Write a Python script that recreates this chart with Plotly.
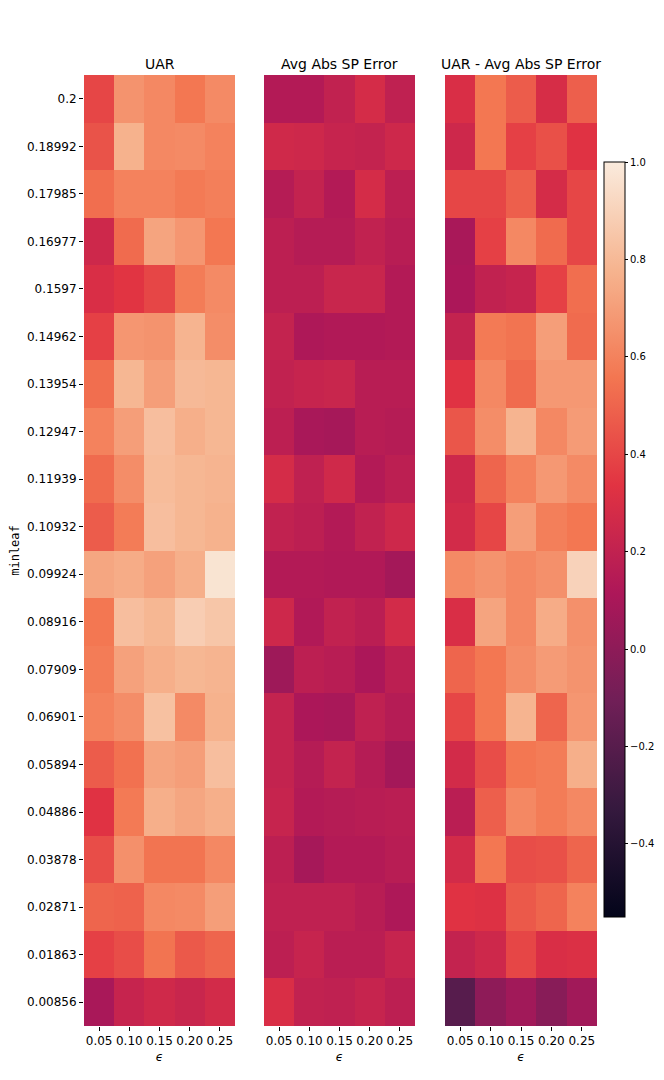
import plotly.graph_objects as go

# ось X - epsilon, ось Y - minleaf (сверху вниз)
eps = ['0.05', '0.10', '0.15', '0.20', '0.25']
minleaf = ['0.2', '0.18992', '0.17985', '0.16977', '0.1597', '0.14962', '0.13954',
           '0.12947', '0.11939', '0.10932', '0.09924', '0.08916', '0.07909', '0.06901',
           '0.05894', '0.04886', '0.03878', '0.02871', '0.01863', '0.00856']

uar = [
    [0.40, 0.66, 0.62, 0.56, 0.63],
    [0.44, 0.77, 0.62, 0.63, 0.60],
    [0.53, 0.60, 0.60, 0.57, 0.59],
    [0.25, 0.52, 0.72, 0.67, 0.56],
    [0.30, 0.34, 0.40, 0.58, 0.63],
    [0.38, 0.67, 0.66, 0.78, 0.64],
    [0.53, 0.79, 0.70, 0.80, 0.79],
    [0.60, 0.70, 0.82, 0.76, 0.79],
    [0.52, 0.64, 0.81, 0.79, 0.78],
    [0.47, 0.58, 0.82, 0.79, 0.77],
    [0.73, 0.75, 0.71, 0.76, 0.97],
    [0.56, 0.82, 0.79, 0.88, 0.85],
    [0.58, 0.71, 0.76, 0.79, 0.78],
    [0.60, 0.64, 0.83, 0.63, 0.77],
    [0.47, 0.54, 0.72, 0.70, 0.82],
    [0.33, 0.57, 0.76, 0.73, 0.76],
    [0.42, 0.65, 0.55, 0.55, 0.62],
    [0.50, 0.49, 0.62, 0.63, 0.70],
    [0.38, 0.42, 0.55, 0.46, 0.50],
    [0.10, 0.22, 0.26, 0.23, 0.27],
]

sp_error = [
    [0.14, 0.14, 0.20, 0.28, 0.19],
    [0.26, 0.25, 0.22, 0.21, 0.25],
    [0.15, 0.21, 0.14, 0.28, 0.18],
    [0.18, 0.15, 0.15, 0.20, 0.16],
    [0.18, 0.18, 0.23, 0.23, 0.14],
    [0.21, 0.12, 0.13, 0.13, 0.14],
    [0.20, 0.22, 0.23, 0.16, 0.16],
    [0.18, 0.10, 0.09, 0.16, 0.15],
    [0.28, 0.19, 0.26, 0.14, 0.18],
    [0.20, 0.18, 0.14, 0.20, 0.25],
    [0.14, 0.14, 0.13, 0.13, 0.08],
    [0.25, 0.13, 0.20, 0.17, 0.27],
    [0.06, 0.18, 0.16, 0.11, 0.18],
    [0.21, 0.11, 0.10, 0.19, 0.15],
    [0.21, 0.15, 0.21, 0.15, 0.08],
    [0.22, 0.14, 0.15, 0.16, 0.17],
    [0.18, 0.09, 0.14, 0.14, 0.16],
    [0.19, 0.19, 0.19, 0.16, 0.12],
    [0.18, 0.22, 0.17, 0.17, 0.22],
    [0.30, 0.20, 0.19, 0.22, 0.18],
]

uar_minus_err = [
    [0.30, 0.56, 0.47, 0.29, 0.48],
    [0.25, 0.56, 0.38, 0.43, 0.33],
    [0.40, 0.40, 0.48, 0.28, 0.40],
    [0.10, 0.38, 0.62, 0.52, 0.40],
    [0.11, 0.20, 0.22, 0.38, 0.53],
    [0.21, 0.57, 0.55, 0.70, 0.52],
    [0.33, 0.62, 0.52, 0.68, 0.68],
    [0.45, 0.64, 0.78, 0.62, 0.69],
    [0.25, 0.50, 0.60, 0.68, 0.63],
    [0.27, 0.40, 0.70, 0.59, 0.56],
    [0.63, 0.66, 0.62, 0.65, 0.90],
    [0.30, 0.72, 0.62, 0.75, 0.65],
    [0.50, 0.56, 0.64, 0.69, 0.66],
    [0.40, 0.56, 0.78, 0.50, 0.67],
    [0.27, 0.42, 0.56, 0.58, 0.76],
    [0.17, 0.48, 0.62, 0.58, 0.62],
    [0.27, 0.56, 0.42, 0.43, 0.50],
    [0.33, 0.32, 0.46, 0.50, 0.60],
    [0.21, 0.25, 0.40, 0.30, 0.31],
    [-0.20, 0.00, 0.07, -0.02, 0.07],
]

titles = ['UAR', 'Avg Abs SP Error', 'UAR - Avg Abs SP Error']

# палитра rocket (seaborn)
rocket = [[0.0, '#03051a'], [1/7, '#35193e'], [2/7, '#701f57'], [3/7, '#ad1759'],
          [4/7, '#e13342'], [5/7, '#f37651'], [6/7, '#f6b48f'], [1.0, '#faebdd']]

# у body страницы отступ 8px, фигура меньше окна, чтобы не было полос прокрутки
W, H = 656, 1056
panels_px = [(76, 227), (256, 407), (437, 589)]
y_top, y_bot = 67, 1018
cb_top, cb_bot = 154, 909

fig = go.Figure()
font = dict(family='DejaVu Sans', size=12, color='black')

for i, z in enumerate([uar, sp_error, uar_minus_err]):
    n = '' if i == 0 else str(i + 1)
    fig.add_trace(go.Heatmap(
        x=eps, y=minleaf, z=z, colorscale=rocket, zmin=-0.55, zmax=1.0,
        xaxis='x' + n, yaxis='y' + n, showscale=(i == 2),
        colorbar=dict(x=596 / W, xanchor='left', xpad=0, ypad=0,
                      thickness=21, thicknessmode='pixels',
                      len=(cb_bot - cb_top) / H, y=1 - (cb_top + cb_bot) / 2 / H, yanchor='middle',
                      outlinecolor='black', outlinewidth=1,
                      tickvals=[-0.4, -0.2, 0.0, 0.2, 0.4, 0.6, 0.8, 1.0],
                      ticktext=['\u22120.4', '\u22120.2', '0.0', '0.2', '0.4', '0.6', '0.8', '1.0'],
                      ticks='outside', ticklen=3, tickcolor='black',
                      tickfont=dict(family='DejaVu Sans', size=10, color='black'))))
    x0, x1 = panels_px[i]
    fig.update_layout(**{
        'xaxis' + n: dict(domain=[x0 / W, x1 / W], anchor='y' + n, ticks='outside',
                          ticklen=4, tickcolor='black', tickfont=font, showgrid=False,
                          zeroline=False, showline=False,
                          title=dict(text='<i>\u03f5</i>', font=font, standoff=9)),
        'yaxis' + n: dict(domain=[1 - y_bot / H, 1 - y_top / H], anchor='x' + n,
                          autorange='reversed', showgrid=False, zeroline=False,
                          showticklabels=(i == 0), ticks='outside' if i == 0 else '',
                          ticklen=4, tickcolor='black', tickfont=font),
    })
    fig.add_annotation(text=titles[i], x=(x0 + x1) / 2 / W, y=1 - y_top / H,
                       xref='paper', yref='paper', xanchor='center', yanchor='bottom',
                       showarrow=False, yshift=1,
                       font=dict(family='DejaVu Sans', size=14, color='black'))

fig.update_layout(yaxis_title=dict(text='minleaf', font=dict(family='DejaVu Sans Mono', size=12,
                                                             color='black'), standoff=8))

fig.update_layout(width=W, height=H, paper_bgcolor='white', plot_bgcolor='white',
                  margin=dict(l=0, r=0, t=0, b=0, autoexpand=False), showlegend=False)

fig.write_html("out.html")
